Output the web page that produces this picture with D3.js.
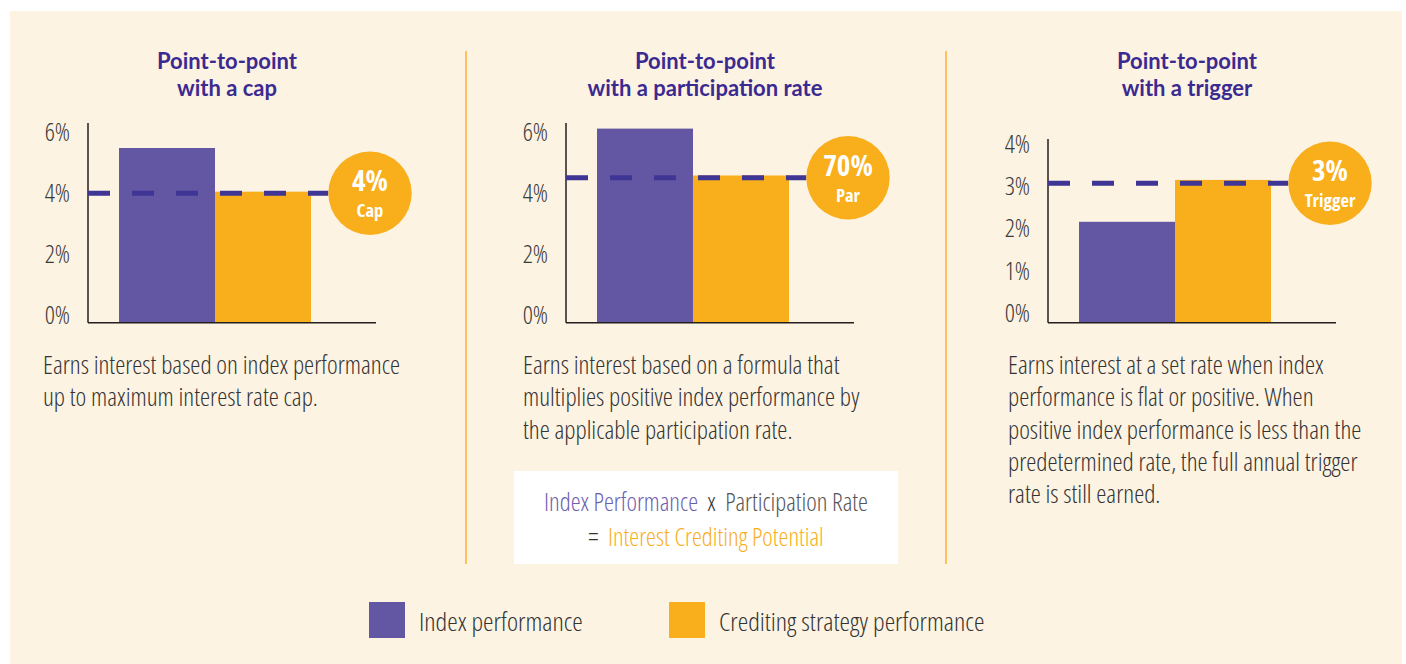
<!DOCTYPE html>
<html>
<head>
<meta charset="utf-8">
<script src="https://cdn.jsdelivr.net/npm/d3@7"></script>
<style>
  body { margin: 0; background: #ffffff; }
  .cond { font-family: "Open Sans", sans-serif; font-stretch: 75%; font-weight: 300; white-space: pre; }
  .badge { font-family: "Open Sans", sans-serif; font-stretch: 75%; font-weight: 700; fill: #ffffff; }
  .title { font-family: Lato, "Noto Sans", sans-serif; font-weight: 700; fill: #3b2a90; }
</style>
</head>
<body>
<svg id="chart"></svg>
<script>
// ── data ────────────────────────────────────────────────────────────────────
const panelTitles    = [["Point-to-point", "with a cap"], ["Point-to-point", "with a participation rate"], ["Point-to-point", "with a trigger"]];
const seriesNames    = ["Index performance", "Crediting strategy performance"];
const indexPerf      = [5.4, 6.0, 2.17];
const creditingPerf  = [4.05, 4.55, 3.07];
const thresholdLevel = [4.0, 4.48, 3.0];
const badgeValues    = ["4%", "70%", "3%"];
const badgeLabels    = ["Cap", "Par", "Trigger"];
const yMaxes         = [6, 6, 4];
const tickValues     = [[0, 2, 4, 6], [0, 2, 4, 6], [0, 1, 2, 3, 4]];
const descriptions   = [
  ["Earns interest based on index performance", "up to maximum interest rate cap."],
  ["Earns interest based on a formula that", "multiplies positive index performance by", "the applicable participation rate."],
  ["Earns interest at a set rate when index", "performance is flat or positive. When", "positive index performance is less than the", "predetermined rate, the full annual trigger", "rate is still earned."]
];

// ── layout ──────────────────────────────────────────────────────────────────
const W = 1406, H = 664;
const PURPLE = "#6356a3", ORANGE = "#f9ae1c", DASH = "#3f3594", CREAM = "#fdf3e3";
const axisX     = [88, 566, 1048];
const textX     = [43, 523, 1008];
const baseY     = 322.7;
const plotTop   = [128.6, 128.6, 136.7];   // y of yMax
const axisTop   = [123, 123, 139];
const labelRng  = [[315, 132], [315, 132], [313, 144]];
const badgeR    = 41.7, badgeCx = 282;

const svg = d3.select("#chart").attr("width", W).attr("height", H);
svg.append("rect").attr("x", 10).attr("y", 11).attr("width", 1392).attr("height", H - 11).attr("fill", CREAM);

// dividers
[466, 946].forEach(x => svg.append("line").attr("x1", x).attr("x2", x).attr("y1", 51).attr("y2", 564)
  .attr("stroke", "#fbc25f").attr("stroke-width", 2));

const x = d3.scaleBand().domain(seriesNames).range([31, 223]).paddingInner(0);

panelTitles.forEach((title, i) => {
  const g = svg.append("g").attr("transform", `translate(${axisX[i]},0)`);
  const y = d3.scaleLinear().domain([0, yMaxes[i]]).range([baseY, plotTop[i]]);
  const yLab = d3.scaleLinear().domain([0, yMaxes[i]]).range(labelRng[i]);

  g.append("text").attr("class", "title").attr("x", 139).attr("y", 69).attr("text-anchor", "middle")
    .style("font-size", "22px")
    .selectAll("tspan").data(title).join("tspan").attr("x", 139).attr("dy", (d, j) => j ? 27 : 0).text(d => d);

  // bars
  const vals = [indexPerf[i], creditingPerf[i]];
  g.selectAll("rect.bar").data(vals).join("rect").attr("class", "bar")
    .attr("x", (d, j) => x(seriesNames[j])).attr("width", x.bandwidth())
    .attr("y", d => y(d)).attr("height", d => baseY - y(d))
    .attr("fill", (d, j) => j ? ORANGE : PURPLE);

  // axes
  g.append("line").attr("x1", 0).attr("x2", 0).attr("y1", axisTop[i]).attr("y2", baseY).attr("stroke", "#231f20").attr("stroke-width", 1.5);
  g.append("line").attr("x1", 0).attr("x2", 288).attr("y1", baseY).attr("y2", baseY).attr("stroke", "#231f20").attr("stroke-width", 1.5);

  g.selectAll("text.tick").data(tickValues[i]).join("text").attr("class", "cond tick")
    .attr("x", -18).attr("y", d => yLab(d)).attr("dy", "0.35em").attr("text-anchor", "end")
    .attr("fill", "#3a3a3a").style("font-size", "25px").text(d => d + "%");

  // threshold dashed line + badge
  const ty = y(thresholdLevel[i]);
  g.append("line").attr("x1", 0).attr("x2", badgeCx - badgeR).attr("y1", ty).attr("y2", ty)
    .attr("stroke", DASH).attr("stroke-width", 5).attr("stroke-dasharray", "22,22");
  g.append("circle").attr("cx", badgeCx).attr("cy", ty).attr("r", badgeR).attr("fill", ORANGE);
  g.append("text").attr("class", "badge").attr("x", badgeCx).attr("y", ty - 2).attr("text-anchor", "middle")
    .style("font-size", "29px").text(badgeValues[i]);
  g.append("text").attr("class", "badge").attr("x", badgeCx).attr("y", ty + 24).attr("text-anchor", "middle")
    .style("font-size", "18.5px").text(badgeLabels[i]);

  // description
  svg.append("text").attr("class", "cond").attr("fill", "#333333").style("font-size", "25.5px")
    .selectAll("tspan").data(descriptions[i]).join("tspan")
    .attr("x", textX[i]).attr("y", (d, j) => 374 + j * 32.3).text(d => d);
});

// formula box
svg.append("rect").attr("x", 514).attr("y", 471).attr("width", 384).attr("height", 93).attr("fill", "#ffffff");
const f1 = svg.append("text").attr("class", "cond").attr("x", 706).attr("y", 511).attr("text-anchor", "middle").style("font-size", "25px");
f1.append("tspan").attr("fill", "#6b60b0").text("Index Performance");
f1.append("tspan").attr("fill", "#333333").text("  x  ");
f1.append("tspan").attr("fill", "#555555").text("Participation Rate");
const f2 = svg.append("text").attr("class", "cond").attr("x", 706).attr("y", 546).attr("text-anchor", "middle").style("font-size", "25px");
f2.append("tspan").attr("fill", "#333333").text("=  ");
f2.append("tspan").attr("fill", ORANGE).text("Interest Crediting Potential");

// legend
const legX = [369, 669];
seriesNames.forEach((name, j) => {
  svg.append("rect").attr("x", legX[j]).attr("y", 602).attr("width", 36).attr("height", 36).attr("fill", j ? ORANGE : PURPLE);
  svg.append("text").attr("class", "cond").attr("x", legX[j] + 50).attr("y", 622).attr("dy", "0.35em")
    .attr("fill", "#333333").style("font-size", "26.5px").text(name);
});
</script>
</body>
</html>
